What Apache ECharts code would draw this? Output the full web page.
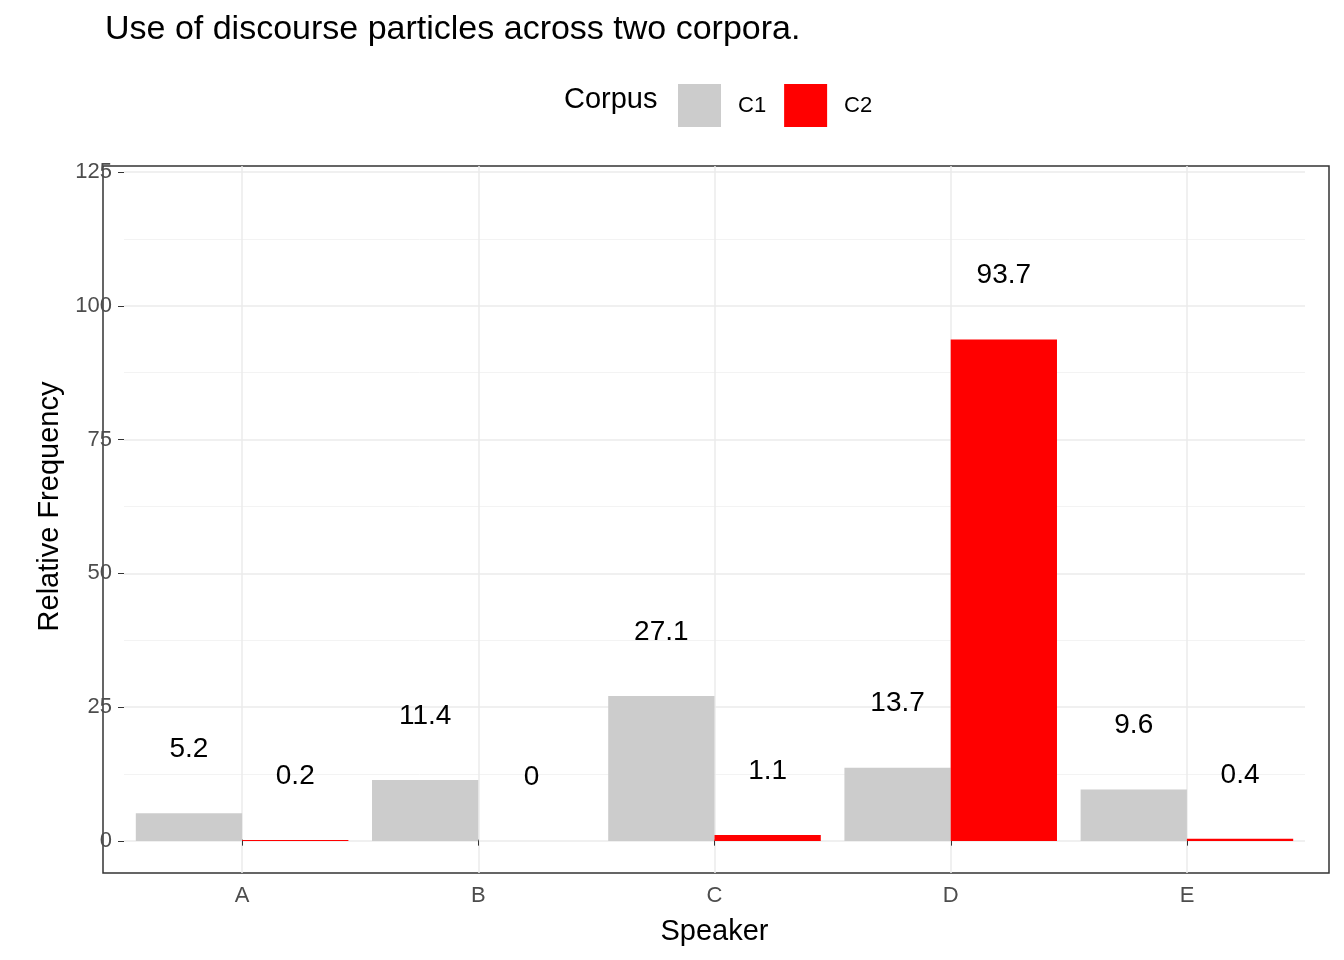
<!DOCTYPE html>
<html>
<head>
<meta charset="utf-8">
<script src="https://cdn.jsdelivr.net/npm/echarts@6/dist/echarts.min.js"></script>
<style>html,body{margin:0;padding:0;background:#fff}#chart{width:1344px;height:960px}</style>
</head>
<body>
<div id="chart"></div>
<script>
const speakers = ['A', 'B', 'C', 'D', 'E'];
const c1Values = [5.2, 11.4, 27.1, 13.7, 9.6];
const c2Values = [0.2, 0, 1.1, 93.7, 0.4];

const chart = echarts.init(document.getElementById('chart'));
const font = 'Arial, "Liberation Sans", sans-serif';
const labelStyle = {
  show: true, position: 'top', distance: 50,
  fontSize: 28, color: '#000', fontFamily: font,
  formatter: p => String(p.value)
};

chart.setOption({
  animation: false,
  textStyle: { fontFamily: font },
  title: {
    text: 'Use of discourse particles across two corpora.',
    left: 100, top: 8,
    textStyle: { fontSize: 34, fontWeight: 'normal', color: '#000' }
  },
  legend: {
    data: ['C1', 'C2'], left: 673, top: 79,
    itemWidth: 43, itemHeight: 43, itemGap: 18,
    icon: 'rect',
    textStyle: { fontSize: 22, color: '#000', padding: [0, 0, 0, 12] }
  },
  graphic: [{
    type: 'text', left: 564, top: 85,
    style: { text: 'Corpus', fontSize: 29, fill: '#000', fontFamily: font }
  }],
  grid: [
    { left: 103, right: 15, top: 166, bottom: 87, show: true, borderColor: '#333', borderWidth: 1.5 },
    { left: 124, right: 39, top: 172, bottom: 119 },
    { left: 242, right: 157, top: 166, bottom: 87 }
  ],
  xAxis: [{
    gridIndex: 0, type: 'category', data: speakers, show: false
  }, {
    gridIndex: 1, type: 'category', data: speakers, show: false
  }, {
    gridIndex: 2, type: 'category', data: speakers, boundaryGap: false,
    name: 'Speaker', nameLocation: 'middle', nameGap: 44,
    nameTextStyle: { fontSize: 29, color: '#000' },
    axisLine: { show: false },
    axisTick: { length: 6, lineStyle: { color: '#333' } },
    axisLabel: { fontSize: 22, color: '#4d4d4d', margin: 12 },
    splitLine: { show: true, lineStyle: { color: '#EBEBEB', width: 1.5 } }
  }],
  yAxis: [{
    gridIndex: 0, type: 'value', min: -6.25, max: 126.25, show: false
  }, {
    gridIndex: 1, type: 'value', min: 0, max: 125, interval: 25,
    name: 'Relative Frequency', nameLocation: 'middle', nameGap: 60,
    nameTextStyle: { fontSize: 29, color: '#000' },
    axisLine: { show: false },
    axisTick: { show: true, length: 6, lineStyle: { color: '#333' } },
    axisLabel: { fontSize: 22, color: '#4d4d4d', margin: 12 },
    splitLine: { show: true, lineStyle: { color: '#EBEBEB', width: 1.5 } },
    minorTick: { show: false, splitNumber: 2 },
    minorSplitLine: { show: true, lineStyle: { color: '#F3F3F3', width: 1 } }
  }, {
    gridIndex: 2, type: 'value', min: -6.25, max: 126.25, show: false
  }],
  series: [{
    name: 'C1', type: 'bar', xAxisIndex: 1, yAxisIndex: 1,
    data: c1Values, itemStyle: { color: '#CCCCCC' },
    barGap: '0%', barCategoryGap: '10%', label: labelStyle
  }, {
    name: 'C2', type: 'bar', xAxisIndex: 1, yAxisIndex: 1,
    data: c2Values, itemStyle: { color: '#FF0000' },
    barGap: '0%', barCategoryGap: '10%', label: labelStyle
  }]
});
</script>
</body>
</html>
